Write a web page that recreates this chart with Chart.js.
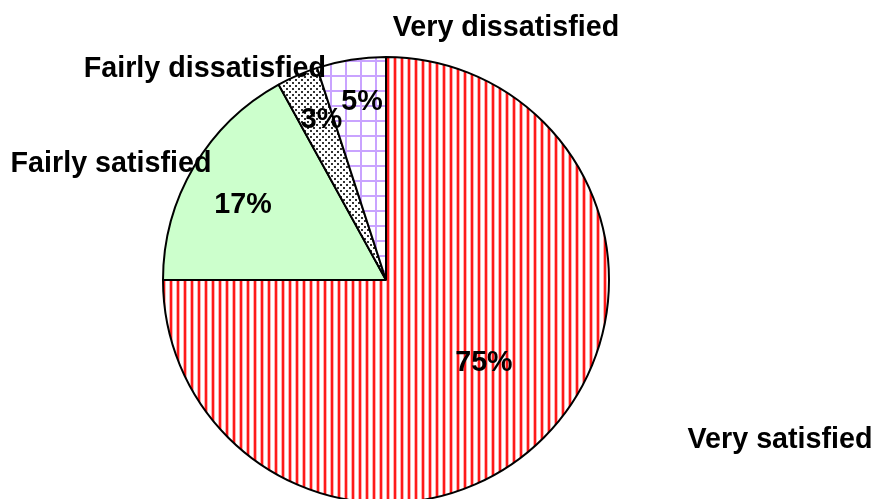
<!DOCTYPE html>
<html>
<head>
<meta charset="utf-8">
<script src="https://cdn.jsdelivr.net/npm/chart.js@4/dist/chart.umd.min.js"></script>
<style>
  html, body { margin: 0; padding: 0; background: #fff; overflow: hidden; }
  #wrap { width: 878px; height: 520px; position: relative; }
</style>
</head>
<body>
<div id="wrap"><canvas id="pie"></canvas></div>
<script>
// satisfaction shares, clockwise from 12 o'clock
const categories = ['Very satisfied', 'Fairly satisfied', 'Fairly dissatisfied', 'Very dissatisfied'];
const shares = [75, 17, 3, 5];

// label anchors relative to the pie centre, in units of the radius
const innerLabelOffset = [[0.439, 0.363], [-0.641, -0.345], [-0.289, -0.726], [-0.108, -0.807]];
const outerLabelOffset = [[1.767, 0.709], [-1.233, -0.529], [-0.812, -0.955], [0.538, -1.139]];

const FONT_SIZE = 28.7;
const FONT = 'bold ' + FONT_SIZE + 'px "Liberation Sans", Arial, sans-serif';

// fill patterns
function makePattern(w, h, paint) {
    const c = document.createElement('canvas');
    c.width = w; c.height = h;
    const g = c.getContext('2d');
    g.fillStyle = '#fff';
    g.fillRect(0, 0, w, h);
    paint(g);
    return g.createPattern(c, 'repeat');
}

const stripes = makePattern(7, 7, g => {
    g.fillStyle = '#ffb0b0';
    g.fillRect(1, 0, 1, 7);
    g.fillRect(4, 0, 1, 7);
    g.fillStyle = '#ff1a1a';
    g.fillRect(2, 0, 2, 7);
});
const dots = makePattern(6, 6, g => {
    g.fillStyle = '#333';
    g.fillRect(1, 1, 2, 2);
    g.fillRect(4, 4, 2, 2);
});
const grid = makePattern(15, 15, g => {
    g.fillStyle = '#c9a3ff';
    g.fillRect(0, 0, 2, 15);
    g.fillRect(0, 0, 15, 2);
});

const labelPlugin = {
    id: 'pieLabels',
    afterDatasetsDraw(chart) {
        const ctx = chart.ctx;
        const arcs = chart.getDatasetMeta(0).data;
        // baseline sits half a cap height below the anchor
        const capShift = FONT_SIZE * 0.358;
        ctx.save();
        ctx.font = FONT;
        ctx.fillStyle = '#000';
        ctx.textAlign = 'center';
        ctx.textBaseline = 'alphabetic';
        arcs.forEach((arc, i) => {
            const { x, y, outerRadius } = arc.getProps(['x', 'y', 'outerRadius'], true);
            const [ix, iy] = innerLabelOffset[i];
            ctx.fillText(shares[i] + '%', x + outerRadius * ix, y + outerRadius * iy + capShift);
            const [kx, ky] = outerLabelOffset[i];
            ctx.fillText(categories[i], x + outerRadius * kx, y + outerRadius * ky + capShift);
        });
        ctx.restore();
    }
};

new Chart(document.getElementById('pie'), {
    type: 'pie',
    data: {
        labels: categories,
        datasets: [{
            data: shares,
            backgroundColor: [stripes, '#ccffcc', dots, grid],
            borderColor: '#000',
            borderWidth: 2,
            radius: 223
        }]
    },
    options: {
        responsive: true,
        maintainAspectRatio: false,
        animation: false,
        layout: { padding: { top: 57, bottom: 17, left: 163, right: 269 } },
        plugins: {
            legend: { display: false },
            tooltip: { enabled: false }
        }
    },
    plugins: [labelPlugin]
});
</script>
</body>
</html>
